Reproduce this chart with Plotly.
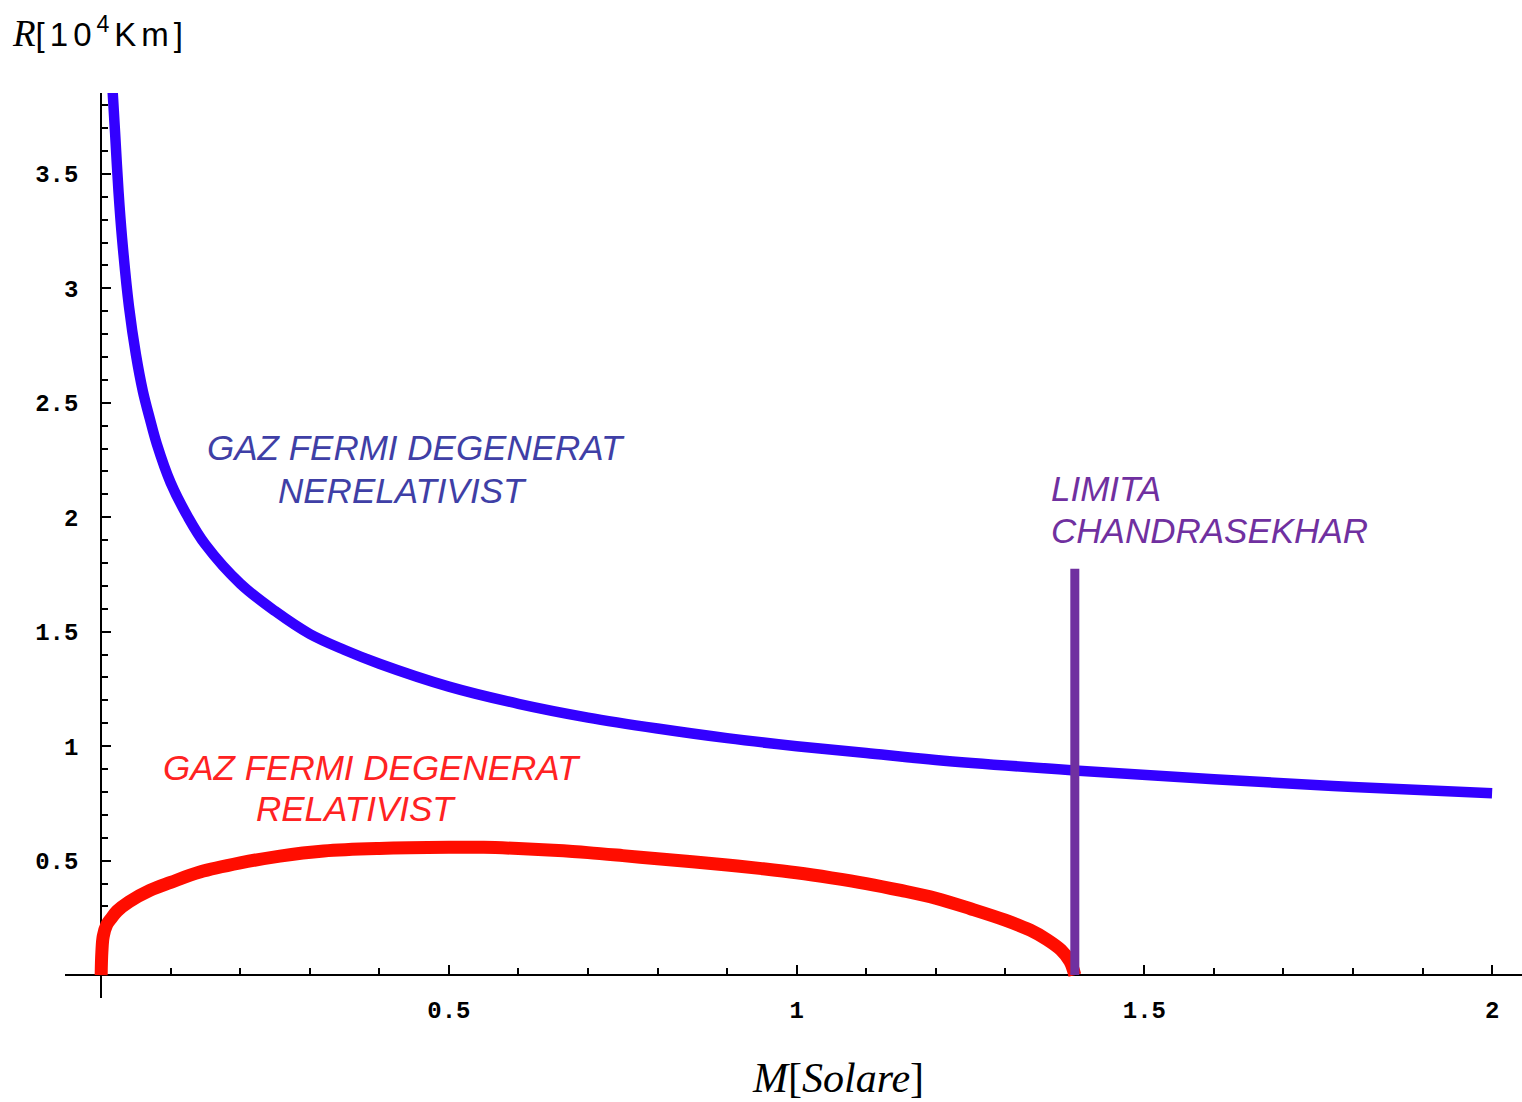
import plotly.graph_objects as go

# ---- data ----
blue_M = [0.0165, 0.02, 0.025, 0.03, 0.04, 0.05, 0.06, 0.07, 0.08, 0.1, 0.125, 0.15, 0.2,
          0.25, 0.3, 0.35, 0.4, 0.5, 0.6, 0.7, 0.8, 0.9, 1.0, 1.1, 1.2, 1.4, 1.6, 1.8, 2.0]
blue_R = [3.86, 3.68, 3.42, 3.22, 2.92, 2.71, 2.55, 2.43, 2.32, 2.15, 2.0, 1.88, 1.71,
          1.59, 1.49, 1.42, 1.36, 1.26, 1.185, 1.125, 1.077, 1.035, 1.0, 0.97, 0.94, 0.894, 0.855, 0.822, 0.794]

red_M = [0.0, 0.001, 0.003, 0.008, 0.015, 0.023, 0.04, 0.07, 0.1, 0.142, 0.2, 0.257, 0.32, 0.4,
         0.5, 0.55, 0.6, 0.65, 0.7, 0.75, 0.8, 0.85, 0.9, 0.95, 1.0, 1.05, 1.1, 1.15, 1.2, 1.25,
         1.3, 1.336, 1.36, 1.38, 1.393, 1.40]
red_R = [0.0, 0.1, 0.17, 0.22, 0.25, 0.28, 0.32, 0.37, 0.405, 0.45, 0.49, 0.52, 0.542, 0.553,
         0.558, 0.558, 0.553, 0.545, 0.535, 0.522, 0.508, 0.495, 0.481, 0.465, 0.447, 0.425, 0.4,
         0.37, 0.336, 0.29, 0.24, 0.196, 0.155, 0.11, 0.06, 0.0]

chandra_M = [1.40, 1.40]
chandra_R = [0.0, 1.775]

x_ticks = [0.5, 1, 1.5, 2]
x_ticktext = ["0.5", "1", "1.5", "2"]
y_ticks = [0.5, 1, 1.5, 2, 2.5, 3, 3.5]
y_ticktext = ["0.5", "1", "1.5", "2", "2.5", "3", "3.5"]

x_range = [-0.052, 2.043]
y_range = [-0.1, 3.853]

fig = go.Figure()
fig.add_trace(go.Scatter(x=blue_M, y=blue_R, mode="lines",
                         line=dict(color="#3300FF", width=10.5), line_shape="spline"))
fig.add_trace(go.Scatter(x=red_M, y=red_R, mode="lines",
                         line=dict(color="#FF0D00", width=13), line_shape="spline"))
fig.add_trace(go.Scatter(x=chandra_M, y=chandra_R, mode="lines",
                         line=dict(color="#7030A0", width=9)))

tickfont = dict(family="Liberation Mono", size=24, color="black", weight="bold")

fig.update_layout(
    width=1522, height=1102,
    margin=dict(l=65, r=0, t=93, b=104),
    paper_bgcolor="white", plot_bgcolor="white",
    showlegend=False,
    xaxis=dict(range=x_range, anchor="free",
               position=(0 - y_range[0]) / (y_range[1] - y_range[0]),
               showgrid=False, zeroline=False, showline=True, linecolor="black", linewidth=2,
               tickmode="array", tickvals=x_ticks, ticktext=x_ticktext,
               ticks="inside", ticklen=9, tickwidth=2, tickcolor="black",
               minor=dict(tickmode="linear", tick0=0, dtick=0.1, ticks="inside",
                          ticklen=6, tickwidth=2, tickcolor="black"),
               tickfont=tickfont, ticklabelstandoff=13, layer="below traces"),
    yaxis=dict(range=y_range, anchor="free",
               position=(0 - x_range[0]) / (x_range[1] - x_range[0]),
               showgrid=False, zeroline=False, showline=True, linecolor="black", linewidth=2,
               tickmode="array", tickvals=y_ticks, ticktext=y_ticktext,
               ticks="inside", ticklen=9, tickwidth=2, tickcolor="black",
               minor=dict(tickmode="linear", tick0=0, dtick=0.1, ticks="inside",
                          ticklen=6, tickwidth=2, tickcolor="black"),
               tickfont=tickfont, ticklabelstandoff=17, layer="below traces"),
)

lab = dict(family="Liberation Sans", size=35, style="italic")
annots = [
    ("GAZ FERMI DEGENERAT", 0.452, 2.306, "center", "#3F3FA6"),
    ("NERELATIVIST", 0.433, 2.118, "center", "#3F3FA6"),
    ("GAZ FERMI DEGENERAT", 0.390, 0.908, "center", "#FF2222"),
    ("RELATIVIST", 0.367, 0.729, "center", "#FF2222"),
    ("LIMITA", 1.363, 2.127, "left", "#7030A0"),
    ("CHANDRASEKHAR", 1.363, 1.943, "left", "#7030A0"),
]
for txt, x, y, xa, col in annots:
    fig.add_annotation(x=x, y=y, xref="x", yref="y", text=txt, showarrow=False,
                       xanchor=xa, yanchor="middle", font=dict(color=col, **lab))

fig.add_annotation(xref="paper", yref="paper", x=(10 - 65) / 1457, y=(998 - 33) / 905,
                   xanchor="left", yanchor="middle", showarrow=False,
                   text="<span style='font-family:Liberation Serif;font-size:37px'><i>R</i></span>"
                        "<span style='letter-spacing:5px'>[10<sup>4</sup>Km]</span>",
                   font=dict(family="Liberation Sans", size=33, color="black"))
fig.add_annotation(xref="paper", yref="paper", x=(838 - 65) / 1457, y=(998 - 1078) / 905,
                   xanchor="center", yanchor="middle", showarrow=False,
                   text="<i>M</i>[<i>Solare</i>]",
                   font=dict(family="Liberation Serif", size=42, color="black"))

fig.write_html("out.html")
